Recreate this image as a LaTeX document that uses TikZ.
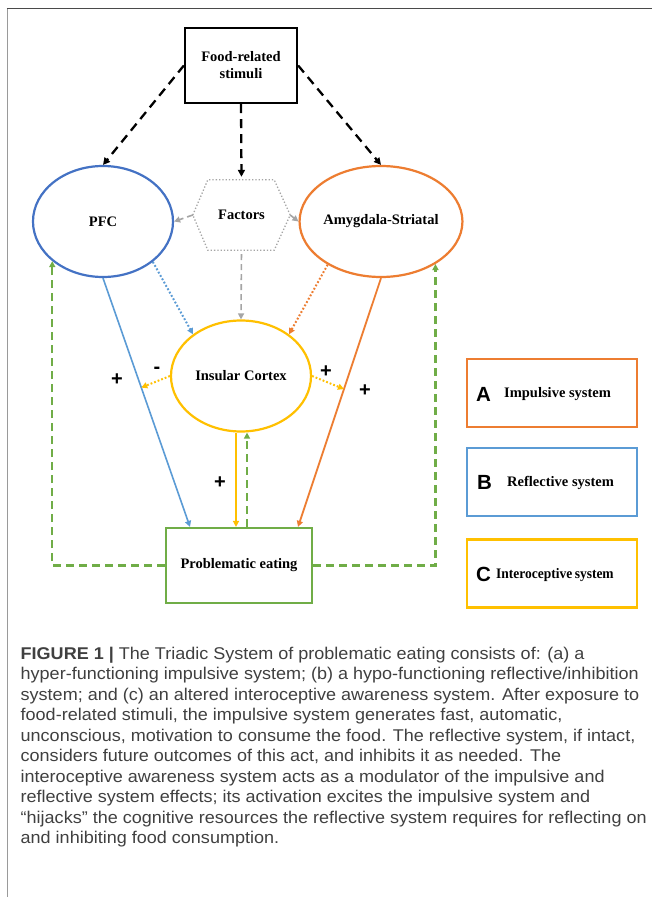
\documentclass[tikz,border=0pt]{standalone}
\usepackage{fontspec}
\usepackage{graphicx}
\setmainfont{Liberation Serif}
\setsansfont{Liberation Sans}
\usetikzlibrary{shapes.geometric,arrows.meta,calc}
\definecolor{cblue}{HTML}{4472C4}
\definecolor{lblue}{HTML}{5B9BD5}
\definecolor{corange}{HTML}{ED7D31}
\definecolor{cyellow}{HTML}{FFC000}
\definecolor{cgreen}{HTML}{70AD47}
\definecolor{cgray}{HTML}{A5A5A5}
\definecolor{framedark}{HTML}{4A4A4A}
\definecolor{framelight}{HTML}{9A9A9A}
\newcommand\capln[1]{\scalebox{1.06}[1]{#1}}
\tikzset{
 lbl/.style={font=\fontsize{14.5}{17}\selectfont\bfseries, align=center},
 oval/.style={ellipse, minimum width=140pt, minimum height=111pt, inner sep=0pt, line width=2.2pt, lbl},
 tipb/.style={-{Triangle[length=7pt,width=7pt]}},
 tips/.style={-{Triangle[length=6pt,width=6pt]}},
 blackdash/.style={color=black, line width=2.3pt, dash pattern=on 9pt off 6pt, tipb},
 graydash/.style={color=cgray, line width=1.6pt, dash pattern=on 6pt off 4pt, tips},
 greendash/.style={color=cgreen, line width=2.1pt, dash pattern=on 8pt off 5pt, tips},
 dotline/.style={line width=2pt, dash pattern=on 1.8pt off 2pt, tips},
 hexdot/.style={color=cgray, line width=1.3pt, dash pattern=on 1.3pt off 2pt},
 sign/.style={font=\sffamily\bfseries\fontsize{20}{20}\selectfont, inner sep=0pt},
 legbox/.style={draw, line width=2.2pt, minimum width=170pt, minimum height=68pt, inner sep=0pt},
 legletter/.style={font=\sffamily\bfseries\fontsize{20.5}{20}\selectfont, inner sep=0pt, anchor=west},
 legtext/.style={font=\fontsize{14.5}{16}\selectfont\bfseries, inner sep=0pt, anchor=west},
 capline/.style={font=\sffamily\fontsize{17}{20}\selectfont, text=black!75, inner sep=0pt, anchor=base west},
}
\begin{document}
\begin{tikzpicture}[x=1pt,y=-1pt]
\useasboundingbox (0,0) rectangle (652,897);
\fill[white] (0,0) rectangle (652,897);
% frame
\draw[framelight, line width=1.5pt] (7.5,897) -- (7.5,8.5);
\draw[framedark, line width=1.5pt] (6.75,8.5) -- (652,8.5);

% nodes
\node[draw, line width=2.3pt, minimum width=112pt, minimum height=75pt, lbl] (food) at (241,65.5) {Food-related\\stimuli};
\node[oval, draw=cblue] (pfc) at (103,221.5) {PFC};
\node[oval, draw=corange] (amy) at (381,221.5) {\raisebox{-2pt}{Amygdala-Striatal}};
\node[lbl, minimum width=97pt, minimum height=70pt, inner sep=0pt] (fac) at (241.5,215) {\raisebox{-2.5pt}{Factors}};
\draw[hexdot] (fac.west) -- ([xshift=15pt]fac.north west) -- ([xshift=-16pt]fac.north east) -- (fac.east) -- ([xshift=-16pt]fac.south east) -- ([xshift=15pt]fac.south west) -- cycle;
\node[oval, draw=cyellow] (ins) at (241,376) {Insular Cortex};
\node[draw=cgreen, line width=2.2pt, minimum width=146pt, minimum height=75pt, lbl] (prob) at (239,565.5) {Problematic eating};

% connectors
\draw[blackdash] (food.west) -- (pfc.north);
\draw[blackdash] (food.east) -- (amy.north);
\draw[blackdash, shorten >=3pt] (food.south) -- (fac.north);
\draw[graydash] (fac.west) -- (pfc.east);
\draw[graydash] (fac.east) -- (amy.west);
\draw[graydash, shorten <=4pt] (fac.south) -- (ins.north);
\draw[dotline, color=lblue] (pfc.-39) -- (ins.139);
\draw[dotline, color=corange] (amy.-141) -- (ins.41);
\draw[line width=1.6pt, color=lblue, tips] (pfc.south) -- ([xshift=-49pt]prob.north) coordinate[pos=0.44] (bl);
\draw[line width=1.8pt, color=corange, tips] (amy.south) -- ([xshift=59pt]prob.north) coordinate[pos=0.446] (ol);
\draw[line width=2.2pt, color=cyellow, tips] ([xshift=-5pt]ins.south) -- ([xshift=-3pt]prob.north);
\draw[greendash] ([xshift=8pt]prob.north) -- ([xshift=6pt]ins.south);
\draw[dotline, color=cyellow] (ins.west) -- (bl);
\draw[dotline, color=cyellow] (ins.east) -- (ol);
\draw[greendash] (prob.west) -| (pfc.-142);
\draw[greendash] (prob.east) -| (amy.-38);

% signs
\node[sign] (s1) at (117,380) {+};
\node[sign] (s2) at (157,370) {-};
\node[sign] (s3) at (326,372) {+};
\node[sign] (s4) at (365,391) {+};
\node[sign] (s5) at (220,483) {+};

% legend
\node[legbox, draw=corange] (la) at (552,393) {};
\node[legletter] (laL) at (476,394) {A};
\node[legtext] (laT) at (504,394) {Impulsive system};
\node[legbox, draw=lblue] (lb) at (552,482) {};
\node[legletter] (lbL) at (477,482) {B};
\node[legtext] (lbT) at (507,483) {Reflective system};
\node[legbox, draw=cyellow] (lc) at (552,573.5) {};
\node[legletter] (lcL) at (476,574) {C};
\node[legtext] (lcT) at (496,575) {\scalebox{0.93}[1]{Interoceptive\hspace{-1pt} system}};

% caption
\node[capline] (c1) at (20.5,659) {\capln{\textbf{FIGURE 1 |} The Triadic System of problematic eating consists of: (a) a}};
\node[capline] (c2) at (20.5,679.5) {\capln{hyper-functioning impulsive system; (b) a hypo-functioning reflective/inhibition}};
\node[capline] (c3) at (20.5,700) {\capln{system; and (c) an altered interoceptive awareness system. After exposure to}};
\node[capline] (c4) at (20.5,720.5) {\capln{food-related stimuli, the impulsive system generates fast, automatic,}};
\node[capline] (c5) at (20.5,741) {\capln{unconscious, motivation to consume the food. The reflective system, if intact,}};
\node[capline] (c6) at (20.5,761.5) {\capln{considers future outcomes of this act, and inhibits it as needed. The}};
\node[capline] (c7) at (20.5,782) {\capln{interoceptive awareness system acts as a modulator of the impulsive and}};
\node[capline] (c8) at (20.5,802.5) {\capln{reflective system effects; its activation excites the impulsive system and}};
\node[capline] (c9) at (20.5,823) {\capln{“hijacks” the cognitive resources the reflective system requires for reflecting on}};
\node[capline] (c10) at (20.5,843.5) {\capln{and inhibiting food consumption.}};
\end{tikzpicture}
\end{document}
